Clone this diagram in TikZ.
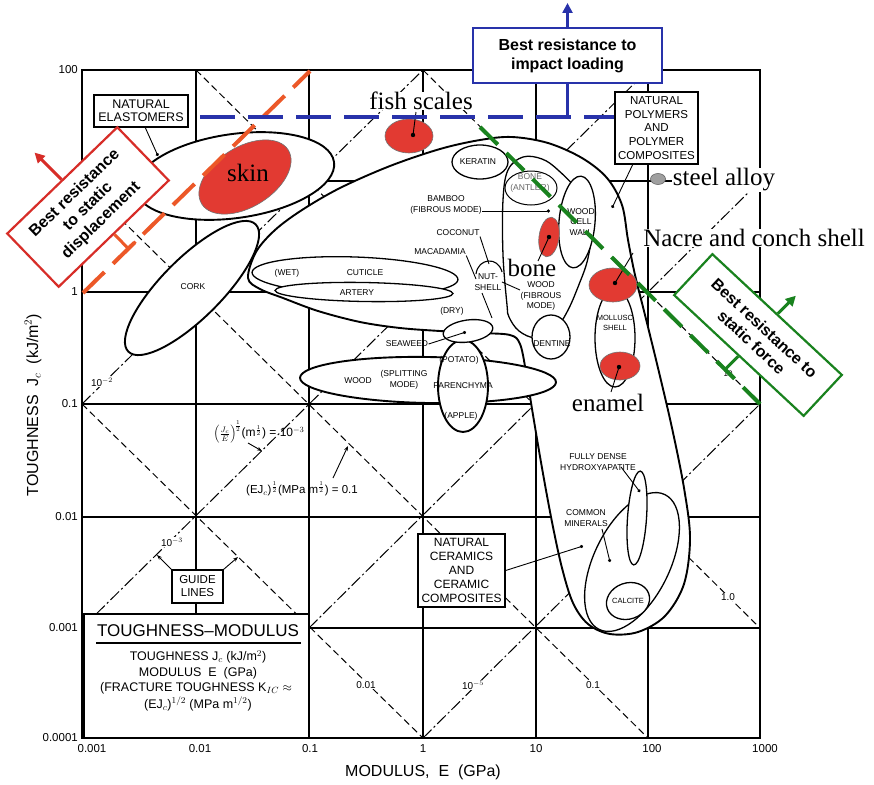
\documentclass[tikz,border=0pt]{standalone}
\usepackage{fontspec}
\setmainfont{Liberation Serif}
\newfontfamily\chart{Liberation Sans}
\usetikzlibrary{arrows.meta,calc}
\newcommand\cf[2]{\chart\fontsize{#1}{#2}\selectfont}
\definecolor{myred}{RGB}{226,58,50}
\definecolor{boxred}{RGB}{215,45,40}
\definecolor{dashred}{RGB}{236,88,40}
\definecolor{myblue}{RGB}{40,50,170}
\definecolor{mygreen}{RGB}{25,130,30}
\begin{document}
\begin{tikzpicture}[x=1pt,y=-1pt,
 gridl/.style={line width=1.1pt},
 fr/.style={line width=1.6pt},
 gD/.style={line width=1pt, dash pattern=on 7pt off 4pt},
 gC/.style={line width=1pt, dash pattern=on 12pt off 3pt on 2pt off 3pt},
 env/.style={line width=1.9pt, fill=white},
 inr/.style={line width=1.3pt, fill=white},
 lbl/.style={font=\cf{8.5}{10.5}, align=center, inner sep=0.3pt},
 glab/.style={font=\cf{10}{11}, fill=white, inner sep=0.8pt},
 tick/.style={font=\cf{11.5}{13}, inner sep=1pt},
 boxlbl/.style={draw, line width=1.3pt, fill=white, align=center, inner sep=1pt},
 ptr/.style={line width=0.9pt},
 dotp/.style={ptr, -{Circle[length=3.2pt]}},
 garr/.style={ptr, -{Stealth[length=5pt]}},
 ann/.style={font=\fontsize{25}{28}\selectfont, fill=white, inner sep=0.5pt},
 redel/.style={fill=myred, draw=black!55, line width=0.6pt},
 bigbox/.style={line width=2.2pt, fill=white, align=center, font=\chart\bfseries\fontsize{16}{19}\selectfont, inner sep=1pt},
]
\useasboundingbox (0,0) rectangle (874,784);
\fill[white] (0,0) rectangle (874,784);

% ---------- grid and frame
\foreach \gx in {196,309,423,536,648} {\draw[gridl] (\gx,70) -- (\gx,738);}
\foreach \gy in {181,292,404,517,628} {\draw[gridl] (82,\gy) -- (760,\gy);}
\draw[fr] (82,70) rectangle (760,738);

% ---------- guide lines
\draw[gD] (82,404) -- (423,738);
\draw[gD] (82,181) -- (648,738);
\draw[gD] (196,70) -- (760,628);
\draw[gD] (423,70) -- (760,404);
\draw[gC] (82,404) -- (423,70);
\draw[gC] (82,628) -- (648,70);
\draw[gC] (309,628) -- (760,181);
\draw[gC] (423,738) -- (760,404);

\node[glab] (g1) at (102,382) {10$^{-2}$};
\node[glab] (g2) at (172,542) {10$^{-3}$};
\node[glab] (g3) at (473,685) {10$^{-5}$};
\node[glab] (g4) at (366,685) {0.01};
\node[glab] (g5) at (593,685) {0.1};
\node[glab] (g6) at (728,597) {1.0};
\node[glab, font=\cf{8}{9}] (g7) at (728,374) {10};

% ---------- tick labels and axis titles
\foreach \yy/\tx [count=\i] in {70/100,292/1,404/0.1,517/0.01,628/0.001,738/0.0001}
  {\node[tick, anchor=east] (yt\i) at (79,\yy) {\tx};}
\foreach \xx/\tx [count=\i] in {92/0.001,200/0.01,310/0.1,423/1,536/10,652/100,765/1000}
  {\node[tick] (xt\i) at (\xx,749) {\tx};}
\node[font=\cf{16}{18}] (xtitle) at (423,772) {MODULUS,\ \ E\ \ (GPa)};
\node[font=\cf{16}{18}, rotate=90] (ytitle) at (33,405) {TOUGHNESS\ \ J$_c$\ \ (kJ/m$^2$)};

% ---------- envelopes
\draw[env, rotate around={45:(192,288)}] (192,288) ellipse [x radius=90pt, y radius=30pt];
\draw[env] plot[smooth cycle, tension=0.55] coordinates {(248,278) (256,252) (275,230) (302,210) (340,188) (390,166) (440,149) (480,140) (512,137) (548,143) (582,158) (607,178) (622,205) (628,240) (635,275) (645,315) (658,368) (672,428) (684,488) (690,538) (684,584) (665,616) (638,632) (610,634) (588,624) (573,603) (562,568) (552,522) (542,468) (533,415) (526,372) (520,344) (510,335) (480,333) (440,331) (400,328) (360,322) (318,311) (283,298) (260,289)};
\draw[env, rotate around={8:(235,176)}] (235,176) ellipse [x radius=100pt, y radius=42pt];

% ---------- interior shapes
\draw[inr] plot[smooth cycle, tension=0.6] coordinates {(507,305) (503,255) (503,200) (508,170) (523,157) (542,159) (558,170) (578,192) (591,225) (588,258) (578,287) (567,312) (554,331) (536,338) (519,331) (509,317)};
\draw[line width=1pt] (531,188) ellipse [x radius=26pt, y radius=17pt];
\draw[inr, rotate around={-5:(577,222)}] (577,222) ellipse [x radius=18pt, y radius=46pt];
\draw[inr] (480,162) ellipse [x radius=28pt, y radius=17pt];
\draw[inr] (551,337) ellipse [x radius=19pt, y radius=22pt];
\draw[inr, rotate around={-2:(355,276)}] (355,276) ellipse [x radius=103pt, y radius=19pt];
\draw[inr, rotate around={-1:(364,292)}] (364,292) ellipse [x radius=89pt, y radius=9.5pt];
\draw[env, rotate around={-1:(428,380)}] (428,380) ellipse [x radius=128pt, y radius=23pt];
\draw[env] (463,386) ellipse [x radius=25pt, y radius=46pt];
\draw[inr, rotate around={8:(468,331)}] (468,331) ellipse [x radius=25pt, y radius=11pt];
\draw[inr] (615,338) ellipse [x radius=20pt, y radius=49pt];
\draw[line width=1.3pt, rotate around={64:(632,562)}] (632,562) ellipse [x radius=75pt, y radius=38pt];
\draw[inr, rotate around={-4:(637,518)}] (637,518) ellipse [x radius=9.5pt, y radius=47pt];
\draw[inr, rotate around={20:(628,601)}] (628,601) ellipse [x radius=22pt, y radius=18pt];
\draw[line width=1.1pt] (476,274) .. controls (478,258) and (498,256) .. (502,272);

% ---------- labels
\node[lbl] (lker) at (478,162) {KERATIN};
\node[lbl, text=black!60] (lant) at (530,183) {BONE\\(ANTLER)};
\node[lbl] (lbam) at (446,205) {BAMBOO\\(FIBROUS MODE)};
\node[lbl] (lcoc) at (458,233) {COCONUT};
\node[lbl] (lmac) at (440,252) {MACADAMIA};
\node[lbl] (lnut) at (488,282) {NUT-\\SHELL};
\node[lbl] (lwf) at (541,296) {WOOD\\(FIBROUS\\MODE)};
\node[lbl] (lwet) at (287,273) {(WET)};
\node[lbl] (lcut) at (365,273) {CUTICLE};
\node[lbl] (lart) at (357,293) {ARTERY};
\node[lbl] (ldry) at (452,311) {(DRY)};
\node[lbl] (lsea) at (407,344) {SEAWEED};
\node[lbl] (lwood) at (358,381) {WOOD};
\node[lbl] (lspl) at (404,380) {(SPLITTING\\MODE)};
\node[lbl] (lpot) at (459,360) {(POTATO)};
\node[lbl] (lpar) at (463,386) {PARENCHYMA};
\node[lbl] (lapp) at (461,416) {(APPLE)};
\node[lbl] (lden) at (552,344) {DENTINE};
\node[lbl] (lwcw) at (581,222) {WOOD\\CELL\\WALL};
\node[lbl, font=\cf{7.5}{9.5}] (lmol) at (615,323) {MOLLUSC\\SHELL};
\node[lbl] (lhyd) at (598,462) {FULLY DENSE\\HYDROXYAPATITE};
\node[lbl] (lmin) at (586,518) {COMMON\\MINERALS};
\node[lbl, font=\cf{7.5}{9}] (lcal) at (628,601) {CALCITE};
\node[lbl] (lcork) at (193,287) {CORK};

% interior pointers
\coordinate (pbam) at (550,211);
\draw[dotp] (lbam.east |- pbam) -- (pbam);
\draw[ptr] (lcoc.south east) -- (489,264);
\draw[ptr] (lmac.south east) -- (476,279);
\draw[ptr] (482,293) -- (492,318);
\draw[ptr] (lnut.east) -- (520,290);
\coordinate (psea) at (466,332);
\draw[dotp] (lsea.east) -- (psea);
\coordinate (phyd) at (640,492);
\draw[dotp] (621,467) -- (phyd);
\coordinate (pmin) at (610,562);
\draw[dotp] (602,529) -- (pmin);

% ---------- guide annotations
\node[font=\cf{12}{13}] (eq1) at (259,432) {$\Bigl(\frac{J_c}{E}\Bigr)^{\!\frac12}$(m$^{\frac12}$) = 10$^{-3}$};
\coordinate (eq1t) at (262,451);
\draw[garr] (248,443) -- (eq1t);
\node[font=\cf{11.5}{12}] (eq2) at (302,489) {(EJ$_c$)$^{\frac12}$(MPa m$^{\frac12}$) = 0.1};
\coordinate (eq2t) at (348,446);
\draw[garr] (333,478) -- (eq2t);

% ---------- label boxes
\node[boxlbl, font=\cf{12.5}{13.5}, minimum width=94pt, minimum height=32pt] (elbox) at (141,111) {NATURAL\\ELASTOMERS};
\coordinate (pel) at (158,156);
\draw[dotp] (145,127) -- (pel);
\node[boxlbl, font=\cf{11.5}{13.6}, minimum width=83pt, minimum height=72pt] (pbox) at (656.5,128) {NATURAL\\POLYMERS\\AND\\POLYMER\\COMPOSITES};
\coordinate (ppol) at (612,208);
\draw[dotp] (633,164) -- (ppol);
\node[boxlbl, font=\cf{12}{14}, minimum width=87pt, minimum height=73pt] (cbox) at (461.5,570.5) {NATURAL\\CERAMICS\\AND\\CERAMIC\\COMPOSITES};
\coordinate (pcer) at (583,546);
\draw[dotp] (cbox.east) -- (pcer);
\node[boxlbl, font=\cf{11.5}{13}, minimum width=51pt, minimum height=33pt] (gbx) at (197.5,586.5) {GUIDE\\LINES};
\coordinate (gl1) at (157,555);
\coordinate (gl2) at (238,557);
\draw[garr] (gbx.north west) -- (gl1);
\draw[garr] (gbx.north east) -- (gl2);

% toughness-modulus panel
\node[draw, line width=1.5pt, fill=white, minimum width=225pt, minimum height=124pt] (tbox) at (196.5,676) {};
\node[font=\cf{17}{19}] (tt) at (198,631) {TOUGHNESS–MODULUS};
\draw[line width=1.2pt] (96,643) -- (301,643);
\node[font=\cf{12.5}{14}] (t1) at (198,657) {TOUGHNESS J$_c$ (kJ/m$^2$)};
\node[font=\cf{12.5}{14}] (t2) at (198,673) {MODULUS\ \ E\ \ (GPa)};
\node[font=\cf{12.5}{14}] (t3) at (196,688) {(FRACTURE TOUGHNESS K$_{IC}$ $\approx$};
\node[font=\cf{12.5}{14}] (t4) at (198,704) {(EJ$_c$)$^{1/2}$ (MPa m$^{1/2}$)};

% ---------- annotations
\node[ann] (tfish) at (421,101) {fish scales};
\node[ann] (tsteel) at (724,180) {steel alloy};
\node[ann] (tnacre) at (754,238) {Nacre and conch shell};
\node[ann] (tbone) at (532,268) {bone};
\node[ann] (tenamel) at (608,403) {enamel};

% red patches
\draw[redel, rotate around={32:(245,177)}] (245,177) ellipse [x radius=51pt, y radius=30pt];
\node[font=\fontsize{25}{28}\selectfont] (tskin) at (248,173) {skin};
\draw[redel] (409,136) ellipse [x radius=24pt, y radius=17pt];
\draw[redel, rotate around={-8:(549,237)}] (549,237) ellipse [x radius=10pt, y radius=20pt];
\draw[redel] (613,285) ellipse [x radius=24pt, y radius=17pt];
\draw[redel] (620,366) ellipse [x radius=20pt, y radius=14pt];
\draw[fill=gray!75, draw=black!60, line width=0.6pt] (658,179) ellipse [x radius=7.5pt, y radius=5.5pt];
\coordinate (dfish) at (413,135);
\coordinate (dbone) at (549,237);
\coordinate (dnacre) at (615,283);
\coordinate (denamel) at (619,367);
\foreach \d in {dfish,dbone,dnacre,denamel} {\fill (\d) circle (2.2pt);}
\draw[ptr] (dfish) -- (416,112);
\draw[ptr] (dbone) -- (538,261);
\draw[ptr] (dnacre) -- (633,253);
\draw[ptr] (denamel) -- (611,392);

% ---------- coloured criteria lines
\coordinate (rA) at (83,293);
\coordinate (rB) at (310,71);
\coordinate (bA) at (200,117);
\coordinate (bB) at (614,117);
\coordinate (gA) at (480,127);
\coordinate (gB) at (760,404);
\draw[dashred, line width=4pt, dash pattern=on 30pt off 12pt] (rA) -- (rB);
\draw[myblue, line width=4pt, dash pattern=on 35pt off 13pt] (bA) -- (bB);
\draw[mygreen, line width=4pt, dash pattern=on 25pt off 12pt] (gA) -- (gB);

% ---------- criteria boxes
\node[bigbox, draw=boxred, rotate=44, minimum width=153pt, minimum height=74pt] (rbox) at (88,207) {Best resistance\\to static\\displacement};
\draw[boxred, line width=3pt, -{Triangle[length=10pt,width=10pt]}] (rbox.north) -- ++(-27,-27);
\coordinate (rP) at ($(rA)!(rbox.south)!(rB)$);
\draw[dashred, line width=3pt] (rbox.south) -- (rP);
\draw[dashred, line width=3pt] ($(rP)!10pt!(rB)$) -- ($(rP)!-10pt!(rB)$);

\node[bigbox, draw=myblue, minimum width=189pt, minimum height=55pt] (bbox) at (567.5,55.5) {Best resistance to\\impact loading};
\draw[myblue, line width=3pt, -{Triangle[length=10pt,width=10pt]}] (bbox.north) -- (567.5,3);
\coordinate (bP) at ($(bA)!(bbox.south)!(bB)$);
\draw[myblue, line width=3pt] (bbox.south) -- (bP);

\node[bigbox, draw=mygreen, rotate=-43, minimum width=177pt, minimum height=56pt] (gbox) at (758,335) {Best resistance to\\static force};
\draw[mygreen, line width=3pt, -{Triangle[length=10pt,width=10pt]}] (gbox.north) -- ++(18,-18);
\coordinate (gP) at ($(gA)!(gbox.south)!(gB)$);
\draw[mygreen, line width=3pt] (gbox.south) -- (gP);
\draw[mygreen, line width=3pt] ($(gP)!10pt!(gB)$) -- ($(gP)!-10pt!(gB)$);
\end{tikzpicture}
\end{document}
